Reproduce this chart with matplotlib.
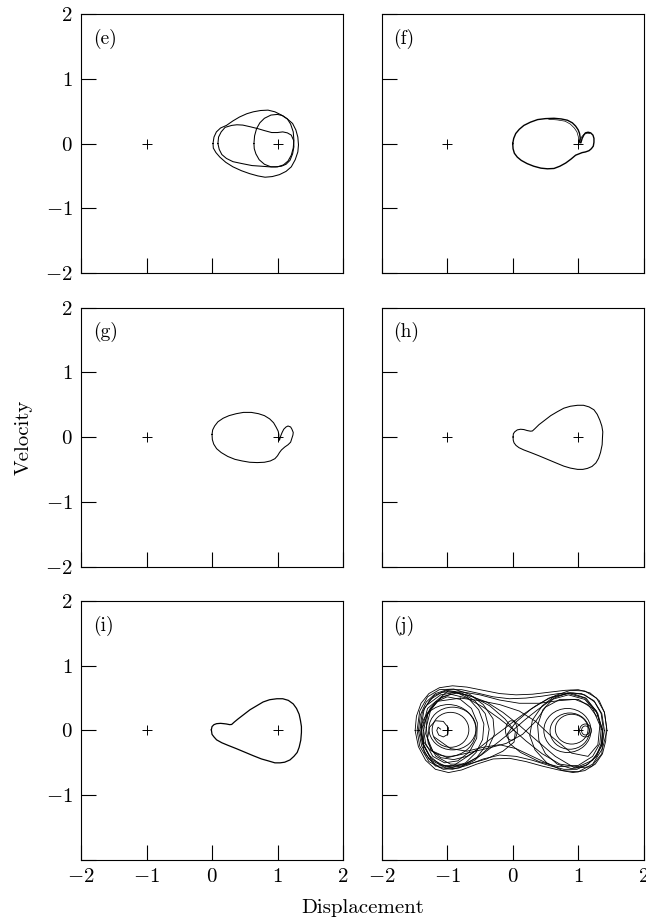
import matplotlib
matplotlib.use("Agg")
import matplotlib.pyplot as plt
from matplotlib.patches import Ellipse

plt.rcParams['font.family'] = 'serif'
plt.rcParams['font.serif'] = ['cmr10']
plt.rcParams['mathtext.fontset'] = 'cm'
plt.rcParams['axes.unicode_minus'] = False

# equilibria of the double well
eq_x = [-1, 1]
eq_y = [0, 0]

ticks = [-2, -1, 0, 1, 2]
tick_labels = ['$-2$', '$-1$', '$0$', '$1$', '$2$']
tick_labels_low = ['', '$-1$', '$0$', '$1$', '$2$']

# (e) period-3 orbit: outer loop, inner egg, circle round the right well
e_outer_x = [0.015, 0.03, 0.067, 0.13, 0.22, 0.32, 0.42, 0.53, 0.63, 0.74, 0.855, 0.96, 1.06, 1.15, 1.23, 1.28, 1.31, 1.32, 1.31, 1.27, 1.21, 1.13, 1.03, 0.92, 0.81, 0.70, 0.575, 0.45, 0.32, 0.21, 0.12, 0.06, 0.02, 0.015]
e_outer_y = [0.0, 0.10, 0.18, 0.24, 0.28, 0.35, 0.41, 0.46, 0.49, 0.51, 0.516, 0.49, 0.44, 0.38, 0.31, 0.21, 0.10, -0.02, -0.13, -0.25, -0.36, -0.43, -0.48, -0.51, -0.52, -0.50, -0.465, -0.42, -0.36, -0.29, -0.21, -0.14, -0.07, 0.0]
e_egg_x = [0.09, 0.10, 0.14, 0.20, 0.30, 0.38, 0.47, 0.58, 0.70, 0.80, 0.91, 1.00, 1.08, 1.15, 1.21, 1.245, 1.25, 1.23, 1.19, 1.13, 1.06, 0.97, 0.88, 0.75, 0.61, 0.46, 0.32, 0.22, 0.15, 0.11, 0.09]
e_egg_y = [0.0, 0.10, 0.18, 0.25, 0.28, 0.29, 0.285, 0.26, 0.23, 0.20, 0.17, 0.17, 0.18, 0.165, 0.13, 0.05, -0.05, -0.16, -0.26, -0.32, -0.35, -0.36, -0.36, -0.35, -0.34, -0.31, -0.28, -0.23, -0.17, -0.09, 0.0]
e_ring_x = [0.64, 0.65, 0.68, 0.73, 0.80, 0.90, 1.00, 1.08, 1.15, 1.20, 1.24, 1.25, 1.24, 1.21, 1.16, 1.09, 1.00, 0.90, 0.80, 0.72, 0.67, 0.645, 0.64]
e_ring_y = [0.0, 0.12, 0.23, 0.32, 0.39, 0.44, 0.45, 0.43, 0.38, 0.30, 0.18, 0.05, -0.07, -0.18, -0.27, -0.33, -0.36, -0.36, -0.32, -0.25, -0.16, -0.08, 0.0]

# (f) single loop with small curl at the right well
f_x = [0.0, 0.015, 0.046, 0.10, 0.17, 0.27, 0.38, 0.50, 0.63, 0.74, 0.835, 0.91, 0.96, 1.00, 1.02, 1.03, 1.02, 1.04, 1.06, 1.085, 1.11, 1.15, 1.19, 1.225, 1.24, 1.24, 1.23, 1.20, 1.165, 1.11, 1.06, 1.01, 0.96, 0.89, 0.81, 0.72, 0.63, 0.53, 0.43, 0.32, 0.22, 0.13, 0.07, 0.025, 0.005, 0.0]
f_y = [0.0, 0.08, 0.155, 0.22, 0.28, 0.33, 0.37, 0.385, 0.39, 0.38, 0.36, 0.32, 0.27, 0.21, 0.155, 0.09, 0.025, 0.01, 0.08, 0.13, 0.165, 0.175, 0.165, 0.13, 0.08, 0.02, -0.04, -0.08, -0.11, -0.13, -0.14, -0.16, -0.18, -0.24, -0.30, -0.35, -0.385, -0.39, -0.38, -0.35, -0.31, -0.26, -0.21, -0.15, -0.08, 0.0]
f2_x = [0.55, 0.68, 0.80, 0.88, 0.94, 0.98, 1.00, 1.01, 1.00, 1.02, 1.05, 1.09, 1.14, 1.18]
f2_y = [0.375, 0.365, 0.345, 0.30, 0.24, 0.18, 0.11, 0.04, -0.03, 0.03, 0.10, 0.145, 0.16, 0.155]

# (g)
g_x = [0.0, 0.01, 0.04, 0.09, 0.17, 0.26, 0.37, 0.48, 0.60, 0.71, 0.80, 0.88, 0.94, 0.98, 1.01, 1.02, 1.02, 1.03, 1.05, 1.07, 1.095, 1.13, 1.16, 1.20, 1.22, 1.24, 1.235, 1.20, 1.16, 1.11, 1.06, 1.03, 1.00, 0.96, 0.89, 0.80, 0.69, 0.575, 0.46, 0.35, 0.24, 0.14, 0.07, 0.026, 0.005, 0.0]
g_y = [0.04, 0.11, 0.17, 0.235, 0.29, 0.33, 0.36, 0.38, 0.38, 0.36, 0.33, 0.28, 0.22, 0.15, 0.09, 0.04, -0.01, -0.05, 0.02, 0.07, 0.12, 0.155, 0.17, 0.155, 0.12, 0.07, 0.03, -0.08, -0.12, -0.155, -0.20, -0.24, -0.29, -0.335, -0.37, -0.39, -0.395, -0.39, -0.37, -0.345, -0.30, -0.24, -0.18, -0.11, -0.04, 0.04]

# (h)
h_x = [0.005, 0.01, 0.03, 0.07, 0.12, 0.17, 0.22, 0.27, 0.30, 0.34, 0.40, 0.49, 0.58, 0.68, 0.78, 0.88, 0.99, 1.08, 1.165, 1.24, 1.29, 1.33, 1.36, 1.375, 1.37, 1.365, 1.34, 1.31, 1.27, 1.21, 1.14, 1.07, 0.99, 0.88, 0.78, 0.66, 0.53, 0.40, 0.275, 0.17, 0.096, 0.05, 0.02, 0.008, 0.005]
h_y = [0.0, 0.05, 0.08, 0.11, 0.12, 0.115, 0.10, 0.09, 0.093, 0.13, 0.19, 0.26, 0.33, 0.39, 0.445, 0.475, 0.49, 0.49, 0.465, 0.42, 0.35, 0.26, 0.17, 0.08, -0.01, -0.12, -0.24, -0.33, -0.40, -0.455, -0.485, -0.50, -0.50, -0.48, -0.45, -0.40, -0.345, -0.29, -0.24, -0.20, -0.165, -0.13, -0.09, -0.05, 0.0]

# (i)
i_x = [-0.01, 0.0, 0.03, 0.07, 0.13, 0.18, 0.22, 0.27, 0.30, 0.34, 0.40, 0.49, 0.58, 0.68, 0.78, 0.88, 0.99, 1.08, 1.165, 1.24, 1.29, 1.33, 1.35, 1.365, 1.365, 1.355, 1.33, 1.30, 1.25, 1.19, 1.11, 1.04, 0.96, 0.86, 0.755, 0.63, 0.50, 0.37, 0.245, 0.15, 0.07, 0.03, 0.0, -0.01]
i_y = [0.01, 0.06, 0.09, 0.105, 0.11, 0.105, 0.10, 0.09, 0.093, 0.13, 0.18, 0.25, 0.32, 0.38, 0.44, 0.475, 0.49, 0.49, 0.465, 0.41, 0.34, 0.25, 0.155, 0.06, -0.03, -0.15, -0.26, -0.34, -0.40, -0.455, -0.49, -0.50, -0.50, -0.47, -0.44, -0.39, -0.335, -0.28, -0.23, -0.19, -0.145, -0.10, -0.06, 0.01]

# (j) chaotic motion, traced strand by strand
j_outer_x = [-1.49, -1.47, -1.40, -1.28, -1.12, -0.92, -0.70, -0.45, -0.20, 0.05, 0.30, 0.55, 0.80, 1.00, 1.18, 1.32, 1.40, 1.43, 1.42, 1.37, 1.26, 1.10, 0.92, 0.70, 0.45, 0.20, -0.05, -0.30, -0.55, -0.78, -0.98, -1.18, -1.33, -1.44, -1.49]
j_outer_y = [0.00, 0.22, 0.42, 0.57, 0.66, 0.69, 0.67, 0.62, 0.57, 0.55, 0.56, 0.59, 0.62, 0.63, 0.58, 0.46, 0.28, 0.06, -0.16, -0.36, -0.52, -0.62, -0.65, -0.61, -0.55, -0.48, -0.43, -0.44, -0.52, -0.61, -0.65, -0.60, -0.46, -0.25, 0.00]
j_outer2_x = [-1.44, -1.41, -1.32, -1.18, -1.00, -0.78, -0.55, -0.30, -0.05, 0.20, 0.45, 0.70, 0.92, 1.10, 1.25, 1.35, 1.38, 1.36, 1.28, 1.15, 0.98, 0.78, 0.55, 0.30, 0.05, -0.20, -0.45, -0.70, -0.92, -1.12, -1.28, -1.39, -1.44]
j_outer2_y = [0.00, 0.24, 0.44, 0.57, 0.63, 0.63, 0.58, 0.52, 0.49, 0.50, 0.53, 0.57, 0.58, 0.55, 0.44, 0.26, 0.04, -0.18, -0.38, -0.52, -0.60, -0.60, -0.54, -0.46, -0.40, -0.38, -0.44, -0.54, -0.60, -0.57, -0.44, -0.24, 0.00]
j_left1_x = [-1.42, -1.38, -1.26, -1.08, -0.88, -0.68, -0.52, -0.44, -0.46, -0.56, -0.72, -0.92, -1.12, -1.28, -1.38, -1.42]
j_left1_y = [0.00, 0.28, 0.48, 0.59, 0.60, 0.50, 0.32, 0.10, -0.14, -0.34, -0.50, -0.57, -0.52, -0.38, -0.20, 0.00]
j_left2_x = [-1.36, -1.31, -1.18, -1.00, -0.80, -0.63, -0.54, -0.55, -0.66, -0.84, -1.04, -1.22, -1.33, -1.36]
j_left2_y = [0.00, 0.26, 0.44, 0.52, 0.48, 0.34, 0.12, -0.12, -0.33, -0.47, -0.50, -0.40, -0.20, 0.00]
j_left3_x = [-1.32, -1.25, -1.08, -0.85, -0.60, -0.35, -0.12, 0.04, 0.02, -0.15, -0.40, -0.68, -0.95, -1.17, -1.29, -1.32]
j_left3_y = [0.05, 0.33, 0.52, 0.58, 0.52, 0.38, 0.18, -0.02, -0.18, -0.32, -0.44, -0.52, -0.52, -0.40, -0.20, 0.05]
j_left4_x = [-1.46, -1.42, -1.30, -1.12, -0.90, -0.66, -0.45, -0.30, -0.28, -0.38, -0.58, -0.82, -1.06, -1.28, -1.42, -1.46]
j_left4_y = [0.00, 0.30, 0.52, 0.63, 0.64, 0.56, 0.40, 0.18, -0.06, -0.28, -0.46, -0.58, -0.60, -0.48, -0.24, 0.00]
j_left5_x = [-1.40, -1.35, -1.20, -1.00, -0.78, -0.58, -0.42, -0.36, -0.40, -0.55, -0.78, -1.02, -1.24, -1.36, -1.40]
j_left5_y = [0.05, 0.34, 0.54, 0.62, 0.58, 0.46, 0.26, 0.02, -0.22, -0.42, -0.55, -0.58, -0.46, -0.22, 0.05]
j_curl_x = [-0.55, -0.70, -0.90, -1.10, -1.25, -1.30, -1.27, -1.18, -1.06, -0.98, -0.99, -1.06, -1.13, -1.16, -1.14, -1.10]
j_curl_y = [-0.30, -0.40, -0.45, -0.42, -0.30, -0.12, 0.05, 0.15, 0.14, 0.04, -0.06, -0.10, -0.07, 0.00, 0.05, 0.02]
j_right1_x = [1.40, 1.36, 1.24, 1.05, 0.84, 0.63, 0.46, 0.38, 0.40, 0.50, 0.68, 0.90, 1.12, 1.28, 1.37, 1.40]
j_right1_y = [0.00, 0.26, 0.46, 0.57, 0.58, 0.50, 0.32, 0.08, -0.16, -0.36, -0.52, -0.59, -0.54, -0.40, -0.20, 0.00]
j_right2_x = [1.35, 1.28, 1.10, 0.85, 0.55, 0.28, 0.05, -0.08, -0.05, 0.12, 0.40, 0.70, 1.00, 1.22, 1.33, 1.35]
j_right2_y = [0.02, 0.30, 0.50, 0.57, 0.50, 0.33, 0.13, -0.05, -0.20, -0.34, -0.48, -0.56, -0.54, -0.40, -0.20, 0.02]
j_right3_x = [1.44, 1.40, 1.28, 1.10, 0.88, 0.65, 0.45, 0.30, 0.26, 0.34, 0.52, 0.76, 1.00, 1.22, 1.37, 1.44]
j_right3_y = [0.00, 0.28, 0.50, 0.61, 0.62, 0.54, 0.38, 0.16, -0.08, -0.30, -0.50, -0.62, -0.64, -0.52, -0.28, 0.00]
j_cross1_x = [-0.95, -0.70, -0.45, -0.20, 0.00, 0.20, 0.45, 0.72, 1.00, 1.22, 1.35, 1.37, 1.28, 1.10, 0.85, 0.60, 0.38, 0.18, 0.00, -0.22, -0.48, -0.75, -1.02, -1.24, -1.36, -1.37, -1.26, -1.10, -0.95]
j_cross1_y = [0.56, 0.50, 0.36, 0.18, 0.02, -0.16, -0.36, -0.52, -0.56, -0.46, -0.25, 0.02, 0.28, 0.48, 0.55, 0.48, 0.32, 0.16, 0.00, -0.18, -0.38, -0.53, -0.56, -0.44, -0.22, 0.06, 0.34, 0.50, 0.56]
j_cross2_x = [-0.80, -0.50, -0.20, 0.10, 0.35, 0.60, 0.90, 1.15, 1.30, 1.33, 1.22, 1.00, 0.72, 0.50, 0.35, 0.15, -0.10, -0.40, -0.70, -1.00, -1.22, -1.33, -1.30, -1.15, -0.80]
j_cross2_y = [0.50, 0.46, 0.40, 0.30, 0.14, -0.10, -0.35, -0.40, -0.22, 0.08, 0.34, 0.48, 0.48, 0.36, 0.14, -0.06, -0.20, -0.28, -0.35, -0.42, -0.32, -0.05, 0.25, 0.45, 0.50]
j_cross3_x = [-1.00, -0.70, -0.40, -0.15, 0.10, 0.35, 0.65, 0.95, 1.20, 1.36, 1.38, 1.30, 1.12, 0.88, 0.60, 0.35, 0.12, -0.10, -0.35, -0.60, -0.90, -1.18, -1.35, -1.40, -1.30, -1.00]
j_cross3_y = [0.60, 0.55, 0.44, 0.28, 0.08, -0.14, -0.40, -0.58, -0.56, -0.36, -0.05, 0.26, 0.50, 0.58, 0.52, 0.38, 0.22, 0.05, -0.14, -0.34, -0.54, -0.55, -0.34, -0.02, 0.34, 0.60]
j_top_x = [-1.30, -1.10, -0.80, -0.50, -0.20, 0.10, 0.40, 0.70, 0.95, 1.15, 1.28]
j_top_y = [0.40, 0.55, 0.60, 0.55, 0.47, 0.42, 0.42, 0.46, 0.48, 0.40, 0.22]
j_low_x = [-1.20, -0.95, -0.70, -0.45, -0.20, 0.05, 0.30, 0.55]
j_low_y = [-0.10, -0.28, -0.32, -0.26, -0.22, -0.28, -0.40, -0.52]
# near-circular loops: centre x, centre y, width, height
j_rings_cx = [-0.95, -0.92, -0.98, 0.835, 0.87, 0.90, 1.11, 1.11, -0.02]
j_rings_cy = [0.01, 0.03, 0.0, 0.0, -0.01, 0.02, 0.0, 0.0, 0.0]
j_rings_w = [0.56, 0.72, 0.84, 0.72, 0.60, 0.50, 0.12, 0.18, 0.18]
j_rings_h = [0.54, 0.66, 0.80, 0.68, 0.56, 0.46, 0.14, 0.20, 0.30]

fig = plt.figure(figsize=(6.46, 9.24), dpi=100)

col_x = [0.1254, 0.5909]
row_y = [0.7045, 0.3869, 0.0693]
w, h = 0.4056, 0.2803

panels = {}
for r, y0 in enumerate(row_y):
    for c, x0 in enumerate(col_x):
        ax = fig.add_axes([x0, y0, w, h])
        ax.set_xlim(-2, 2)
        ax.set_ylim(-2, 2)
        ax.set_xticks(ticks)
        ax.set_yticks(ticks)
        ax.tick_params(direction='in', length=11, width=0.8, labelsize=15, pad=6)
        ax.set_xticklabels(tick_labels if r == 2 else [])
        if c == 0:
            ax.set_yticklabels(tick_labels_low if r == 2 else tick_labels)
        else:
            ax.set_yticklabels([])
        for s in ax.spines.values():
            s.set_linewidth(0.8)
        ax.plot(eq_x, eq_y, '+', color='black', ms=7, mew=0.7)
        panels[(r, c)] = ax

def tag(ax, s):
    ax.text(0.045, 0.905, s, transform=ax.transAxes, fontsize=14, va='center')

lw = 0.75
ax = panels[(0, 0)]
ax.plot(e_outer_x, e_outer_y, color='black', lw=lw)
ax.plot(e_egg_x, e_egg_y, color='black', lw=lw)
ax.plot(e_ring_x, e_ring_y, color='black', lw=lw)
tag(ax, '(e)')

ax = panels[(0, 1)]
ax.plot(f_x, f_y, color='black', lw=1.0)
ax.plot(f2_x, f2_y, color='black', lw=0.5)
tag(ax, '(f)')

ax = panels[(1, 0)]
ax.plot(g_x, g_y, color='black', lw=lw)
tag(ax, '(g)')

ax = panels[(1, 1)]
ax.plot(h_x, h_y, color='black', lw=lw)
tag(ax, '(h)')

ax = panels[(2, 0)]
ax.plot(i_x, i_y, color='black', lw=0.9)
tag(ax, '(i)')

ax = panels[(2, 1)]
jl = 0.6
strands = [(j_outer_x, j_outer_y), (j_outer2_x, j_outer2_y),
           (j_left1_x, j_left1_y), (j_left2_x, j_left2_y), (j_left3_x, j_left3_y),
           (j_left4_x, j_left4_y), (j_left5_x, j_left5_y), (j_curl_x, j_curl_y),
           (j_right1_x, j_right1_y), (j_right2_x, j_right2_y), (j_right3_x, j_right3_y),
           (j_cross1_x, j_cross1_y), (j_cross2_x, j_cross2_y), (j_cross3_x, j_cross3_y),
           (j_top_x, j_top_y), (j_low_x, j_low_y)]
for xs, ys in strands:
    ax.plot(xs, ys, color='black', lw=jl)
for cx, cy, rw, rh in zip(j_rings_cx, j_rings_cy, j_rings_w, j_rings_h):
    ax.add_patch(Ellipse((cx, cy), rw, rh, fill=False, ec='black', lw=jl))
tag(ax, '(j)')

fig.text(0.037, 0.527, 'Velocity', rotation=90, fontsize=15, ha='center', va='center')
fig.text(0.561, 0.017, 'Displacement', fontsize=15, ha='center', va='center')

fig.savefig('out.png', dpi=100)
